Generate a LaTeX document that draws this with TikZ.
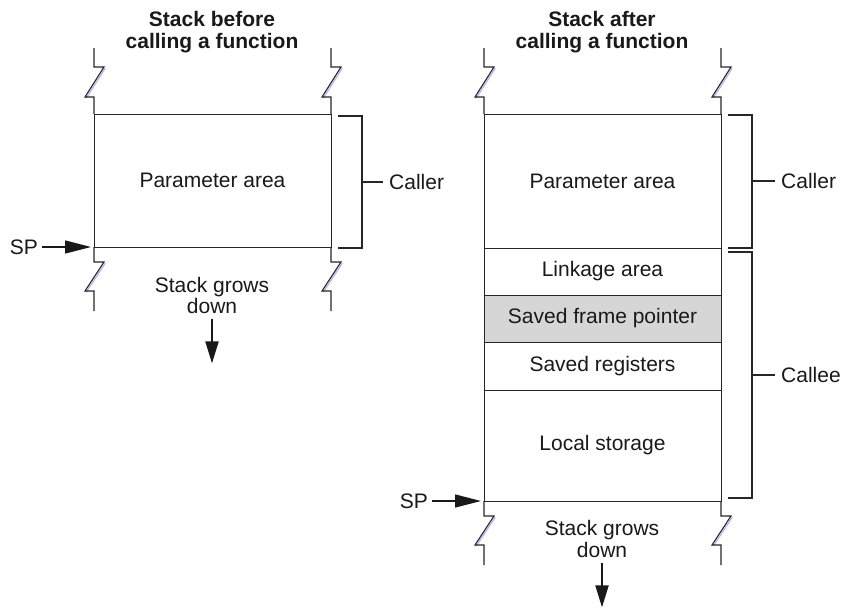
\documentclass[tikz,border=0pt]{standalone}
\usepackage{fontspec}
\setmainfont{Liberation Sans}
\usetikzlibrary{arrows.meta}
\begin{document}
\begin{tikzpicture}[x=1pt,y=-1pt,
  box/.style={draw=black!85, line width=1pt, inner sep=0pt, outer sep=0pt, minimum width=237pt,
    font=\fontsize{21}{24}\selectfont, text=black!90},
  lbl/.style={font=\fontsize{21}{24}\selectfont, inner sep=0pt, text=black!90},
  ttl/.style={font=\fontsize{21}{24}\selectfont\bfseries, inner sep=0pt, anchor=base, text=black!90},
  zz/.style={draw=black!85, line width=1.1pt},
  zzb/.style={draw=blue!30!white, line width=1.2pt},
  brk/.style={draw=black!85, line width=2pt},
  sparrow/.style={draw=black!90, line width=1.3pt, -{Triangle[length=26pt,width=13pt]}},
  growarrow/.style={draw=black!90, line width=2pt, -{Triangle[length=22pt,width=13pt]}}
]
\useasboundingbox (0,0) rectangle (841,613);

% ---------- zigzag helpers ----------
\def\zigtop#1{%
  \draw[zzb] ([xshift=1.2pt,yshift=-1.2pt]#1) ++(0,-17) ++(-9,0) -- ++(19,-30);
  \draw[zz] (#1) -- ++(0,-17) -- ++(-9,0) -- ++(19,-30) -- ++(-10,0) -- ++(0,-19);}
\def\zigbot#1{%
  \draw[zzb] ([xshift=1.2pt,yshift=-1.2pt]#1) ++(0,15) ++(10,0) -- ++(-19,29);
  \draw[zz] (#1) -- ++(0,15) -- ++(10,0) -- ++(-19,29) -- ++(9,0) -- ++(0,20);}

% ---------- titles ----------
\node[ttl] (tA1) at (212,27) {Stack before};
\node[ttl] (tA2) at (212,48) {calling a function};
\node[ttl] (tB1) at (602,27) {Stack after};
\node[ttl] (tB2) at (602,48) {calling a function};

% ---------- left stack ----------
\node[box, minimum height=133pt] (lpar) at (212.5,180.5) {Parameter area};
\zigtop{lpar.north west}
\zigtop{lpar.north east}
\zigbot{lpar.south west}
\zigbot{lpar.south east}

\node[lbl, anchor=east] (lsp) at (38,247) {SP};
\draw[sparrow] (lsp.east) ++(4,0) coordinate (lspS) (lspS) -- ([xshift=-3pt]lpar.south west);

\node[lbl, anchor=base] (lg1) at (212,292) {Stack grows};
\node[lbl, anchor=base] (lg2) at (212,313) {down};
\draw[growarrow] ([yshift=-6pt]lg2.south) -- ++(0,44) coordinate (lgE);

% bracket left
\coordinate (lb1) at (338,116);
\coordinate (lb2) at (362,116);
\coordinate (lb3) at (362,248);
\coordinate (lb4) at (338,248);
\coordinate (lbm) at (362,182);
\node[lbl, anchor=west] (lcaller) at (389,182) {Caller};
\draw[brk] (lb1) -- (lb2) -- (lb3) -- (lb4);
\draw[brk] (lbm) -- ([xshift=-6pt]lcaller.west);

% ---------- right stack ----------
\node[box, minimum height=134pt] (rpar) at (602.5,181) {Parameter area};
\node[box, minimum height=47pt] (rlink) at (602.5,271.5) {Linkage area};
\node[box, minimum height=47pt, fill=black!16] (rsfp) at (602.5,318.5) {Saved frame pointer};
\node[box, minimum height=48pt] (rsreg) at (602.5,366) {Saved registers};
\node[box, minimum height=111pt] (rloc) at (602.5,445.5) {Local storage};
\zigtop{rpar.north west}
\zigtop{rpar.north east}
\zigbot{rloc.south west}
\zigbot{rloc.south east}

\node[lbl, anchor=east] (rsp) at (428,501) {SP};
\draw[sparrow] (rsp.east) ++(4,0) coordinate (rspS) (rspS) -- ([xshift=-3pt]rloc.south west);

\node[lbl, anchor=base] (rg1) at (602,535) {Stack grows};
\node[lbl, anchor=base] (rg2) at (602,557) {down};
\draw[growarrow] ([yshift=-6pt]rg2.south) -- ++(0,44) coordinate (rgE);

% brackets right
\coordinate (rc1) at (728,115);
\coordinate (rc2) at (752,115);
\coordinate (rc3) at (752,248);
\coordinate (rc4) at (728,248);
\coordinate (rcm) at (752,181);
\node[lbl, anchor=west] (rcaller) at (781,181) {Caller};
\draw[brk] (rc1) -- (rc2) -- (rc3) -- (rc4);
\draw[brk] (rcm) -- ([xshift=-6pt]rcaller.west);

\coordinate (re1) at (728,252);
\coordinate (re2) at (752,252);
\coordinate (re3) at (752,498);
\coordinate (re4) at (728,498);
\coordinate (rem) at (752,375);
\node[lbl, anchor=west] (rcallee) at (781,375) {Callee};
\draw[brk] (re1) -- (re2) -- (re3) -- (re4);
\draw[brk] (rem) -- ([xshift=-6pt]rcallee.west);
\end{tikzpicture}
\end{document}
